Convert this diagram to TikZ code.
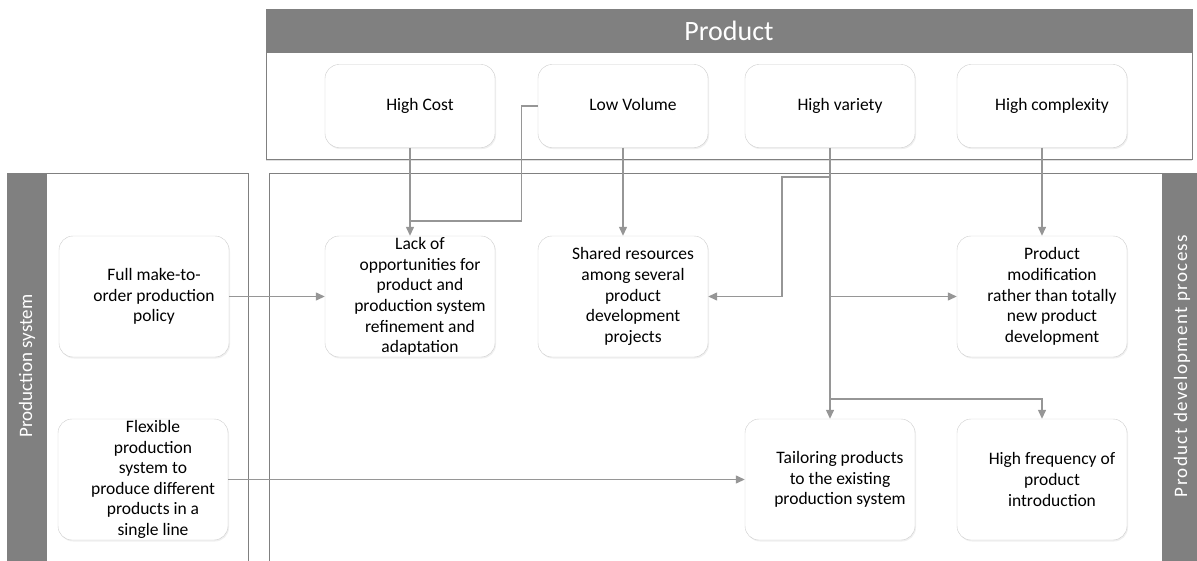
\documentclass[tikz,border=0pt]{standalone}
\usepackage{fontspec}
\setmainfont{Carlito}
\usetikzlibrary{positioning, calc}
\usetikzlibrary{arrows.meta}
\usetikzlibrary{shadows}
\definecolor{bandgray}{RGB}{128,128,128}
\definecolor{linegray}{RGB}{150,150,150}
\definecolor{boxgray}{RGB}{205,205,205}

\begin{document}
\begin{tikzpicture}[x=1pt,y=-1pt,draw=linegray]
	\def \rowprod{106}
	\def \rowone{296.5}
	\def \rowtwo{479.5}
	\def \lanetop{173}
	\tikzstyle{t-lbl}=[inner sep=0pt,align=center,xshift=10pt,font=\fontsize{17.5}{20.6}\selectfont]
	\tikzstyle{f-node}=[rectangle,rounded corners=14pt,draw=boxgray,fill=white,thin,
		minimum width=170pt,inner sep=1pt,
		drop shadow={shadow xshift=1pt,shadow yshift=-1.5pt,opacity=0.12}]
	\tikzset{p-node/.style={f-node,minimum height=83pt,label={[t-lbl,text height=12pt,text depth=4pt]center:#1}},
		e-node/.style={f-node,minimum height=121pt,label={[t-lbl]center:#1}}}
	\tikzstyle{conn}=[draw=linegray,line width=1.3pt,-{Triangle[length=9pt,width=8pt]}]
	\tikzstyle{line}=[draw=linegray,line width=1.3pt]
	\tikzstyle{band}=[fill=bandgray,draw=bandgray]
	\tikzstyle{b-lbl}=[rotate=90,text=white,font=\fontsize{19}{22}\selectfont]
	\useasboundingbox (0,0) rectangle (1197,560);

	% product panel
	\draw[draw=bandgray,fill=white,drop shadow={shadow xshift=0pt,shadow yshift=-2pt,opacity=0.25}] (266,9) rectangle (1192,159);
	\draw[band] (266,9) rectangle (1192,52);
	\node[text=white,font=\fontsize{28}{32}\selectfont] (prodlbl) at (729,31) {Product};

	% lanes
	\draw[draw=bandgray] (7,\lanetop) rectangle (248,570);
	\draw[band] (7,\lanetop) rectangle (46,570);
	\draw[draw=bandgray] (269,\lanetop) rectangle (1162,570);
	\draw[band] (1162,\lanetop) rectangle (1205,570);
	\node[b-lbl] (syslbl) at (27,366) {Production system};
	\node[b-lbl] (pdplbl) at (1182,366) {\addfontfeature{LetterSpace=7}Product development process};

	% product characteristics
	\node[p-node={High Cost}]	(hcost)		at (410,\rowprod)	{};
	\node[p-node={Low Volume}]	(lowvol)	at (623,\rowprod)	{};
	\node[p-node={High variety}]	(hvar)		at (830,\rowprod)	{};
	\node[p-node={High complexity}]	(hcomp)	at (1042,\rowprod)	{};

	% production system
	\node[e-node={Full make-to-\\order production\\policy}] (mto) at (144,\rowone) {};
	\node[e-node={Flexible\\production\\system to\\produce different\\products in a\\single line}] (flex) at (143,\rowtwo) {};

	% development process
	\node[e-node={Lack of\\opportunities for\\product and\\production system\\refinement and\\adaptation}] (lack) at (410,\rowone) {};
	\node[e-node={Shared resources\\among several\\product\\development\\projects}] (shared) at (623,\rowone) {};
	\node[e-node={Product\\modification\\rather than totally\\new product\\development}] (modif) at (1042,\rowone) {};
	\node[e-node={Tailoring products\\to the existing\\production system}] (tailor) at (830,\rowtwo) {};
	\node[e-node={High frequency of\\product\\introduction}] (freq) at (1042,\rowtwo) {};

	% branch points
	\coordinate (j1) at (410,221);
	\coordinate (b1) at (830,177);
	\coordinate (b2) at (830,\rowone);
	\coordinate (b3) at (830,399);

	\path (hcost.south)	edge[conn]	(lack.north)
		(lowvol.south)	edge[conn]	(shared.north)
		(hvar.south)	edge[conn]	(tailor.north)
		(hcomp.south)	edge[conn]	(modif.north)
		(mto.east)	edge[conn]	(lack.west)
		(flex.east)	edge[conn]	(tailor.west)
		(b2)		edge[conn]	(modif.west);
	\draw[line] (lowvol.west) -- ++(-16,0) |- (j1);
	\draw[conn] (b1) -- ++(-48,0) |- (shared.east);
	\draw[conn] (b3) -| (freq.north);
\end{tikzpicture}
\end{document}
